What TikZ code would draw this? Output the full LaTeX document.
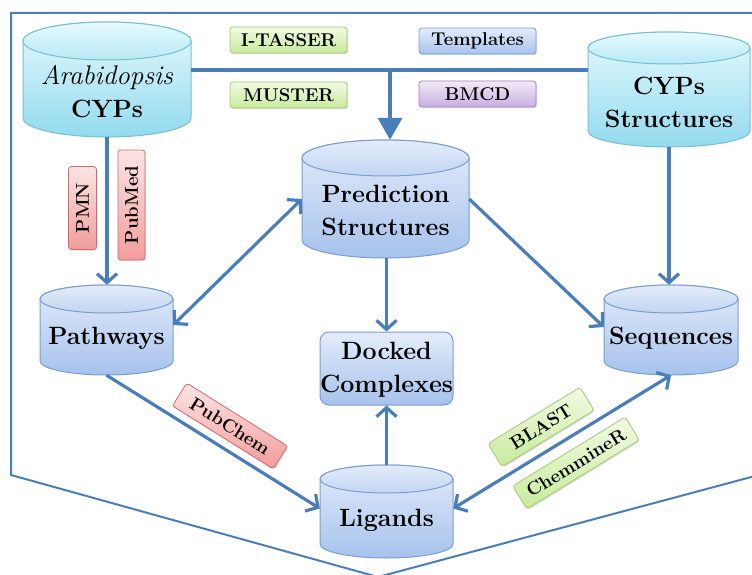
\documentclass[tikz,border=0pt]{standalone}
\usepackage{fontspec}
\usetikzlibrary{arrows.meta,shadows,calc}
\definecolor{lineblue}{HTML}{4A7EBB}
\definecolor{cyantop}{HTML}{E6FAFE}
\definecolor{cyanbot}{HTML}{92DAEE}
\definecolor{cyanedge}{HTML}{79BFD3}
\definecolor{bluetop}{HTML}{E4ECFA}
\definecolor{bluebot}{HTML}{A6C2EC}
\definecolor{blueedge}{HTML}{7A9DD4}
\definecolor{greentop}{HTML}{F2FBE2}
\definecolor{greenbot}{HTML}{C8EA9C}
\definecolor{greenedge}{HTML}{A5C873}
\definecolor{redtop}{HTML}{FDE4E4}
\definecolor{redbot}{HTML}{F29C9C}
\definecolor{rededge}{HTML}{D2686A}
\definecolor{purptop}{HTML}{F2EAF8}
\definecolor{purpbot}{HTML}{C7AEE2}
\definecolor{purpedge}{HTML}{9C80C2}
\tikzset{
  cylcyan/.style={draw=cyanedge, top color=cyantop, bottom color=cyanbot},
  cylcyantop/.style={draw=cyanedge, top color=cyantop, bottom color=cyanbot!55!cyantop},
  cylblue/.style={draw=blueedge, top color=bluetop, bottom color=bluebot},
  cylbluetop/.style={draw=blueedge, top color=bluetop, bottom color=bluebot!55!bluetop},
  bigtext/.style={align=center, inner sep=0pt, font=\fontsize{25}{33}\selectfont\bfseries},
  tag/.style={rounded corners=3pt, inner sep=0pt, minimum width=117pt, minimum height=26pt,
    font=\fontsize{18.5}{22}\selectfont\bfseries, line width=0.8pt,
    drop shadow={shadow xshift=1.2pt, shadow yshift=-1.2pt, opacity=0.25}},
  taggreen/.style={tag, draw=greenedge, top color=greentop, bottom color=greenbot},
  tagred/.style={tag, draw=rededge, top color=redtop, bottom color=redbot},
  tagblue/.style={tag, draw=blueedge, top color=bluetop, bottom color=bluebot},
  tagpurple/.style={tag, draw=purpedge, top color=purptop, bottom color=purpbot},
  conn/.style={draw=lineblue, line width=3.2pt},
  barb/.style={conn, arrows={-Straight Barb[length=9pt,width=20pt]}},
  dbarb/.style={conn, arrows={Straight Barb[length=9pt,width=20pt]-Straight Barb[length=9pt,width=20pt]}},
}
\newcommand\mycyl[7]{%
  \node[inner sep=0pt, minimum width={#3-#2}, minimum height={#5-#4}] (#1) at ({(#2+#3)/2},{-(#4+#5)/2}) {};
  \path[#7, line width=1pt] (#2,{-(#4+#6)}) -- (#2,{-(#5-#6)})
     arc[start angle=180, end angle=360, x radius={(#3-#2)/2}, y radius=#6]
     -- (#3,{-(#4+#6)})
     arc[start angle=0, end angle=180, x radius={(#3-#2)/2}, y radius=#6] -- cycle;
  \path[#7top, line width=1pt] ({(#2+#3)/2},{-(#4+#6)}) ellipse[x radius={(#3-#2)/2}, y radius=#6];
}
\begin{document}
\begin{tikzpicture}[x=1pt,y=1pt]
\useasboundingbox (0,0) rectangle (752,-575);
\clip (0,0) rectangle (752,-575);
% frame
\draw[draw=lineblue, line width=2pt] (770,-13) -- (11,-13) -- (11,-475) -- (378,-577) -- (770,-472);

% cylinders
\mycyl{arab}{23}{191}{22}{137}{19}{cylcyan}
\mycyl{cyps}{588}{750}{32}{147}{16}{cylcyan}
\mycyl{pred}{302}{469}{140}{258}{18}{cylblue}
\mycyl{pathw}{40}{173}{285}{375}{14}{cylblue}
\mycyl{seq}{604}{738}{285}{375}{14}{cylblue}
\mycyl{lig}{320}{453}{465}{558}{14}{cylblue}
\node[draw=blueedge, line width=1pt, top color=bluetop, bottom color=bluebot, rounded corners=9pt,
      minimum width=133pt, minimum height=73pt, inner sep=0pt] (dock) at (386.5,-368.5) {};

% texts
\node[bigtext] (arabT) at (107,-92) {{\fontsize{27}{33}\selectfont\mdseries\itshape Arabidopsis}\\CYPs};
\node[bigtext] (cypsT) at (669,-102) {CYPs\\Structures};
\node[bigtext] (predT) at (385.5,-210) {Prediction\\Structures};
\node[bigtext] (pathwT) at (106.5,-338) {Pathways};
\node[bigtext] (seqT) at (671,-338) {Sequences};
\node[bigtext] (ligT) at (386.5,-520) {Ligands};
\node[bigtext] (dockT) at (386.5,-370) {Docked\\Complexes};

% connectors
\coordinate (hub) at (390,-70);
\draw[conn, line width=4pt] (arab.east |- hub) -- (cyps.west |- hub);
\draw[conn, line width=4pt, arrows={-Triangle[length=22pt,width=24pt]}] (hub) -- (hub |- pred.north);
\draw[barb] (arab.south) -- (arab.south |- pathw.north);
\draw[barb] (cyps.south) -- (cyps.south |- seq.north);
\draw[dbarb] ([yshift=5pt]pathw.east) -- (pred.west);
\draw[barb] (pred.east) -- ([yshift=3pt]seq.west);
\draw[barb] (pred.south -| dock.north) -- (dock.north);
\draw[barb] (lig.north) -- (dock.south);
\draw[barb] (pathw.south) -- ([yshift=3pt]lig.west);
\draw[dbarb] ([yshift=3pt]lig.east) -- (seq.south);

% tags
\node[taggreen] (itasser) at (288.5,-40) {I-TASSER};
\node[taggreen] (muster) at (288.5,-95) {MUSTER};
\node[tagblue] (templ) at (477.5,-41) {Templates};
\node[tagpurple] (bmcd) at (477.5,-94) {BMCD};
\node[tagred, rotate=90, minimum width=83pt, minimum height=28pt] (pmn) at (82.5,-208) {PMN};
\node[tagred, rotate=90, minimum width=110pt, minimum height=27pt] (pubmed) at (131.5,-205) {PubMed};
\node[tagred, rotate=-32, minimum width=119pt, minimum height=27pt] (pubchem) at (230,-426) {PubChem};
\node[taggreen, rotate=31.5, minimum width=108pt, minimum height=27pt] (blast) at (541,-427) {BLAST};
\node[taggreen, rotate=31.5, minimum width=132pt, minimum height=27pt] (chem) at (576,-463) {ChemmineR};
\end{tikzpicture}
\end{document}
